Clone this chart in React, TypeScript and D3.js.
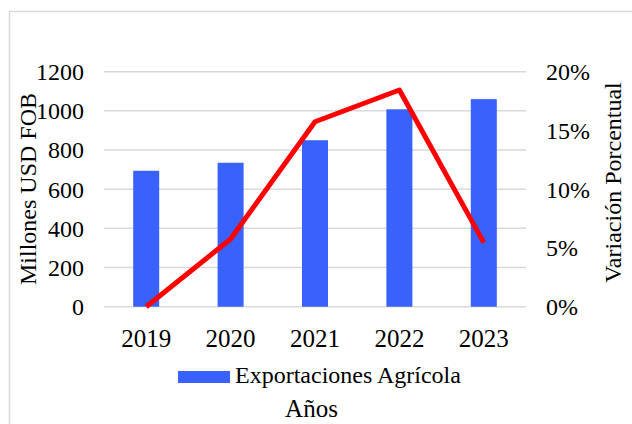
import React from "react";
import * as d3 from "d3";

const years = ["2019", "2020", "2021", "2022", "2023"];
const exports = [694, 735, 850, 1008, 1060];
const variation = [0, 5.76, 15.74, 18.44, 5.45];
const leftTicks = [0, 200, 400, 600, 800, 1000, 1200];
const rightTicks = [0, 5, 10, 15, 20];

const W = 632;
const H = 424;
const FONT = "Liberation Serif, Times New Roman, serif";

export default function App() {
  const x = d3.scaleBand<string>().domain(years).range([104, 526]).padding(0);
  const yL = d3.scaleLinear().domain([0, 1200]).range([306.7, 71.7]);
  const yR = d3.scaleLinear().domain([0, 20]).range([306.7, 71.7]);
  const barW = 26;
  const line = d3
    .line<number>()
    .x((_, i) => (x(years[i]) as number) + x.bandwidth() / 2)
    .y((d) => yR(d));
  const ts: React.CSSProperties = { fontFamily: FONT };

  return (
    <svg
      width={W}
      height={H}
      style={{ position: "absolute", left: 0, top: 0, background: "#fff", fontFamily: FONT }}
    >
      <rect x={9.5} y={11.5} width={W} height={H} fill="#fff" stroke="#d9d9d9" strokeWidth={1.5} />
      {leftTicks.map((t) => (
        <line key={t} x1={104} x2={526} y1={yL(t)} y2={yL(t)} stroke="#d9d9d9" strokeWidth={1.5} />
      ))}
      {years.map((yr, i) => (
        <rect
          key={yr}
          x={(x(yr) as number) + x.bandwidth() / 2 - barW / 2}
          y={yL(exports[i])}
          width={barW}
          height={yL(0) - yL(exports[i])}
          fill="#3961fb"
        />
      ))}
      <path d={line(variation) || ""} fill="none" stroke="#ff0000" strokeWidth={5} strokeLinejoin="round" />
      {leftTicks.map((t) => (
        <text key={t} style={ts} x={84} y={yL(t)} dy="0.35em" textAnchor="end" fontSize={24} fill="#000">
          {t}
        </text>
      ))}
      {rightTicks.map((t) => (
        <text key={t} style={ts} x={546} y={yR(t)} dy="0.35em" textAnchor="start" fontSize={24} fill="#000">
          {t + "%"}
        </text>
      ))}
      {years.map((yr) => (
        <text
          key={yr}
          style={ts}
          x={(x(yr) as number) + x.bandwidth() / 2}
          y={346.5}
          textAnchor="middle"
          fontSize={25}
          fill="#000"
        >
          {yr}
        </text>
      ))}
      <text
        style={ts}
        transform={`translate(36,189) rotate(-90)`}
        textAnchor="middle"
        fontSize={24}
        fill="#000"
      >
        Millones USD FOB
      </text>
      <text
        style={ts}
        transform={`translate(621,182.5) rotate(-90)`}
        textAnchor="middle"
        fontSize={24}
        fill="#000"
      >
        Variación Porcentual
      </text>
      <rect x={178} y={371} width={52} height={12} fill="#3961fb" />
      <text style={ts} x={235} y={383} fontSize={24} fill="#000">
        Exportaciones Agrícola
      </text>
      <text style={ts} x={311.5} y={416.5} textAnchor="middle" fontSize={25} fill="#000">
        Años
      </text>
    </svg>
  );
}
